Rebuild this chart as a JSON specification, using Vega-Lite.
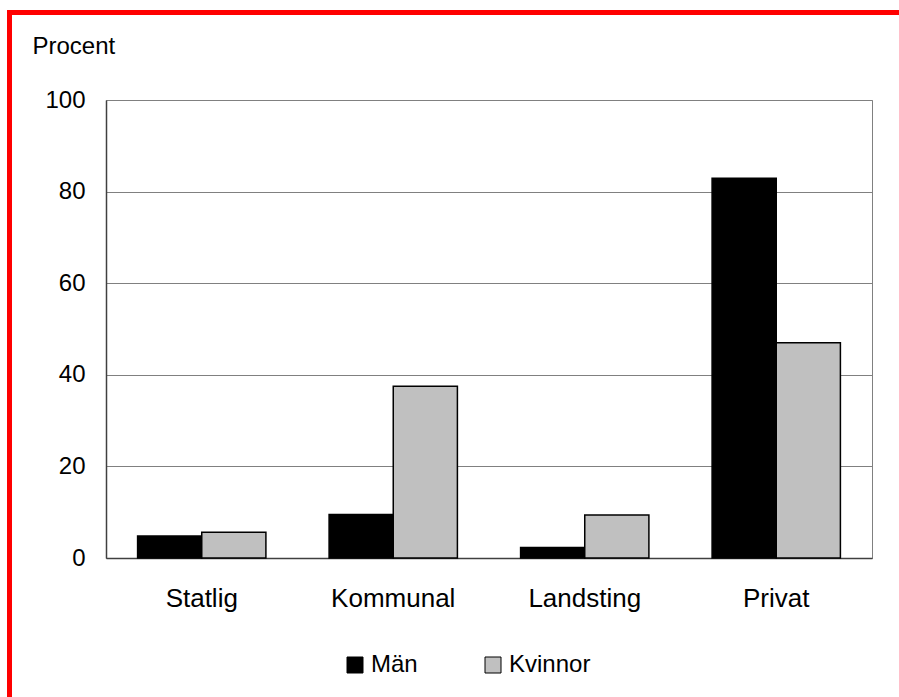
{
  "$schema": "https://vega.github.io/schema/vega-lite/v6.json",
  "width": 766,
  "height": 458,
  "autosize": {"type": "none"},
  "padding": {"left": 106, "top": 100, "right": 27, "bottom": 139},
  "background": "white",
  "config": {
    "font": "Liberation Sans",
    "view": {"stroke": "#808080", "strokeWidth": 1},
    "axis": {"labelFont": "Liberation Sans", "titleFont": "Liberation Sans", "labelColor": "black", "titleColor": "black"},
    "legend": {"labelFont": "Liberation Sans"}
  },
  "layer": [
    {
      "data": {
        "values": [
          {"sektor": "Statlig", "kon": "Män", "procent": 4.8},
          {"sektor": "Statlig", "kon": "Kvinnor", "procent": 5.6},
          {"sektor": "Kommunal", "kon": "Män", "procent": 9.5},
          {"sektor": "Kommunal", "kon": "Kvinnor", "procent": 37.5},
          {"sektor": "Landsting", "kon": "Män", "procent": 2.3},
          {"sektor": "Landsting", "kon": "Kvinnor", "procent": 9.4},
          {"sektor": "Privat", "kon": "Män", "procent": 82.9},
          {"sektor": "Privat", "kon": "Kvinnor", "procent": 47.0}
        ]
      },
      "mark": {"type": "bar", "stroke": "black", "strokeWidth": 1.5},
      "encoding": {
        "x": {
          "field": "sektor", "type": "nominal",
          "sort": ["Statlig", "Kommunal", "Landsting", "Privat"],
          "scale": {"paddingInner": 0.33, "paddingOuter": 0.165},
          "axis": {
            "title": null, "labelAngle": 0, "ticks": false, "labelFontSize": 26,
            "labelPadding": 27, "domainColor": "#404040", "domainWidth": 1.5, "grid": false
          }
        },
        "xOffset": {"field": "kon", "type": "nominal", "sort": ["Män", "Kvinnor"]},
        "y": {
          "field": "procent", "type": "quantitative",
          "scale": {"domain": [0, 100], "nice": false},
          "axis": {
            "values": [0, 20, 40, 60, 80, 100], "ticks": false, "labelFontSize": 24,
            "labelPadding": 21, "domainColor": "#404040", "domainWidth": 1.5,
            "gridColor": "#808080", "gridWidth": 1,
            "title": "Procent", "titleAngle": 0, "titleFontSize": 24, "titleFontWeight": "normal",
            "titleAlign": "left", "titleBaseline": "alphabetic", "titleX": -74, "titleY": -47
          }
        },
        "color": {
          "field": "kon", "type": "nominal",
          "sort": ["Män", "Kvinnor"],
          "scale": {"domain": ["Män", "Kvinnor"], "range": ["#000000", "#c0c0c0"]},
          "legend": {
            "title": null, "orient": "none", "direction": "horizontal",
            "legendX": 237, "legendY": 553, "padding": 0,
            "symbolType": "square", "symbolSize": 256, "symbolStrokeColor": "black",
            "symbolStrokeWidth": 1, "symbolOpacity": 1,
            "labelFontSize": 24, "labelOffset": 4, "columnPadding": 63, "labelColor": "black"
          }
        }
      }
    },
    {
      "data": {"values": [{"kant": "topp"}]},
      "mark": {"type": "rule", "color": "red", "strokeWidth": 5},
      "encoding": {"x": {"value": -99}, "x2": {"value": 793}, "y": {"value": -87.5}}
    },
    {
      "data": {"values": [{"kant": "vanster"}]},
      "mark": {"type": "rule", "color": "red", "strokeWidth": 5},
      "encoding": {"x": {"value": -96.5}, "y": {"value": -90}, "y2": {"value": 597}}
    }
  ]
}
